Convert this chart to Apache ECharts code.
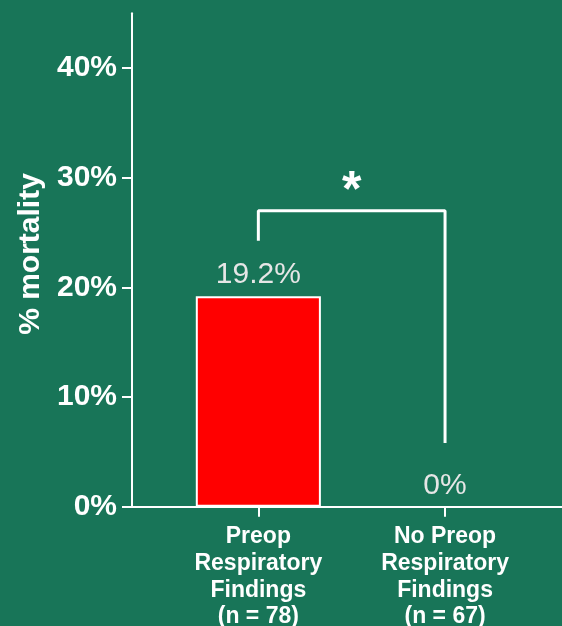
<!DOCTYPE html>
<html>
<head>
<meta charset="utf-8">
<script src="https://cdn.jsdelivr.net/npm/echarts@6/dist/echarts.min.js"></script>
<style>
html,body{margin:0;padding:0;background:#187558;}
#c{width:562px;height:626px;}
</style>
</head>
<body>
<div id="c"></div>
<script>
const categories = ['Preop\nRespiratory\nFindings\n(n = 78)', 'No Preop\nRespiratory\nFindings\n(n = 67)'];
const mortality = [19.2, 0];
const yTicks = [0, 10, 20, 30, 40];
const bracketLeftBottom = 24.25;
const bracketTop = 27;
const bracketRightBottom = 5.8;
const starLevel = 28.7;
const significance = '*';

const chart = echarts.init(document.getElementById('c'), null, {renderer: 'canvas'});
const FONT = '"Liberation Sans", Arial, sans-serif';

const option = {
  backgroundColor: '#187558',
  animation: false,
  grid: [
    {left: 132, right: 0, top: 13.3, bottom: 119.3, containLabel: false, outerBoundsMode: 'none'},
    {left: 165, right: 23.6, top: 13.3, bottom: 119.3, containLabel: false, outerBoundsMode: 'none'}
  ],
  xAxis: [
    {gridIndex: 0, type: 'value', min: 0, max: 1,
      axisLine: {show: true, onZero: false, lineStyle: {color: '#fff', width: 2}},
      axisTick: {show: false}, axisLabel: {show: false}, splitLine: {show: false}},
    {gridIndex: 1, type: 'category', data: categories,
      axisLine: {show: false},
      axisTick: {show: true, alignWithLabel: true, length: 10, lineStyle: {color: '#fff', width: 2}},
      axisLabel: {color: '#fff', fontFamily: FONT, fontWeight: 'bold', fontSize: 23, lineHeight: 26.7, margin: 17, interval: 0},
      splitLine: {show: false}}
  ],
  yAxis: [
    {gridIndex: 0, type: 'value', min: yTicks[0], max: 45, interval: 10,
      axisLine: {show: true, lineStyle: {color: '#fff', width: 2}},
      axisTick: {show: true, length: 10, customValues: yTicks, lineStyle: {color: '#fff', width: 2}},
      axisLabel: {color: '#fff', fontFamily: FONT, fontWeight: 'bold', fontSize: 30, margin: 15,
        customValues: yTicks, verticalAlign: 'middle', padding: [7, 0, 0, 0], formatter: v => v + '%'},
      splitLine: {show: false},
      name: '% mortality', nameLocation: 'middle', nameGap: 82,
      nameTextStyle: {color: '#fff', fontFamily: FONT, fontWeight: 'bold', fontSize: 30, padding: [0, 0, 0, 12]}},
    {gridIndex: 1, type: 'value', min: 0, max: 45, show: false}
  ],
  series: [
    {type: 'bar', xAxisIndex: 1, yAxisIndex: 1, barWidth: '67%',
      data: mortality.map(v => ({value: v, itemStyle: {borderWidth: v > 0 ? 2 : 0}})),
      itemStyle: {color: '#ff0000', borderColor: '#fff', borderWidth: 2},
      label: {show: true, position: 'top', distance: 6, color: '#e6e6e6', fontFamily: FONT, fontSize: 30,
        formatter: p => p.value + '%'}},
    {type: 'line', xAxisIndex: 1, yAxisIndex: 1, symbol: 'none', z: 5,
      lineStyle: {color: '#fff', width: 3},
      data: [[categories[0], bracketLeftBottom], [categories[0], bracketTop], [categories[1], bracketTop], [categories[1], bracketRightBottom]]}
  ]
};
chart.setOption(option);

const p0 = chart.convertToPixel({xAxisIndex: 1, yAxisIndex: 1}, [categories[0], starLevel]);
const p1 = chart.convertToPixel({xAxisIndex: 1, yAxisIndex: 1}, [categories[1], starLevel]);
chart.setOption({
  graphic: [{
    type: 'text', x: (p0[0] + p1[0]) / 2, y: p0[1], z: 10,
    style: {text: significance, fill: '#fff', font: 'bold 50px ' + FONT, textAlign: 'center', textVerticalAlign: 'middle'}
  }]
});
</script>
</body>
</html>
